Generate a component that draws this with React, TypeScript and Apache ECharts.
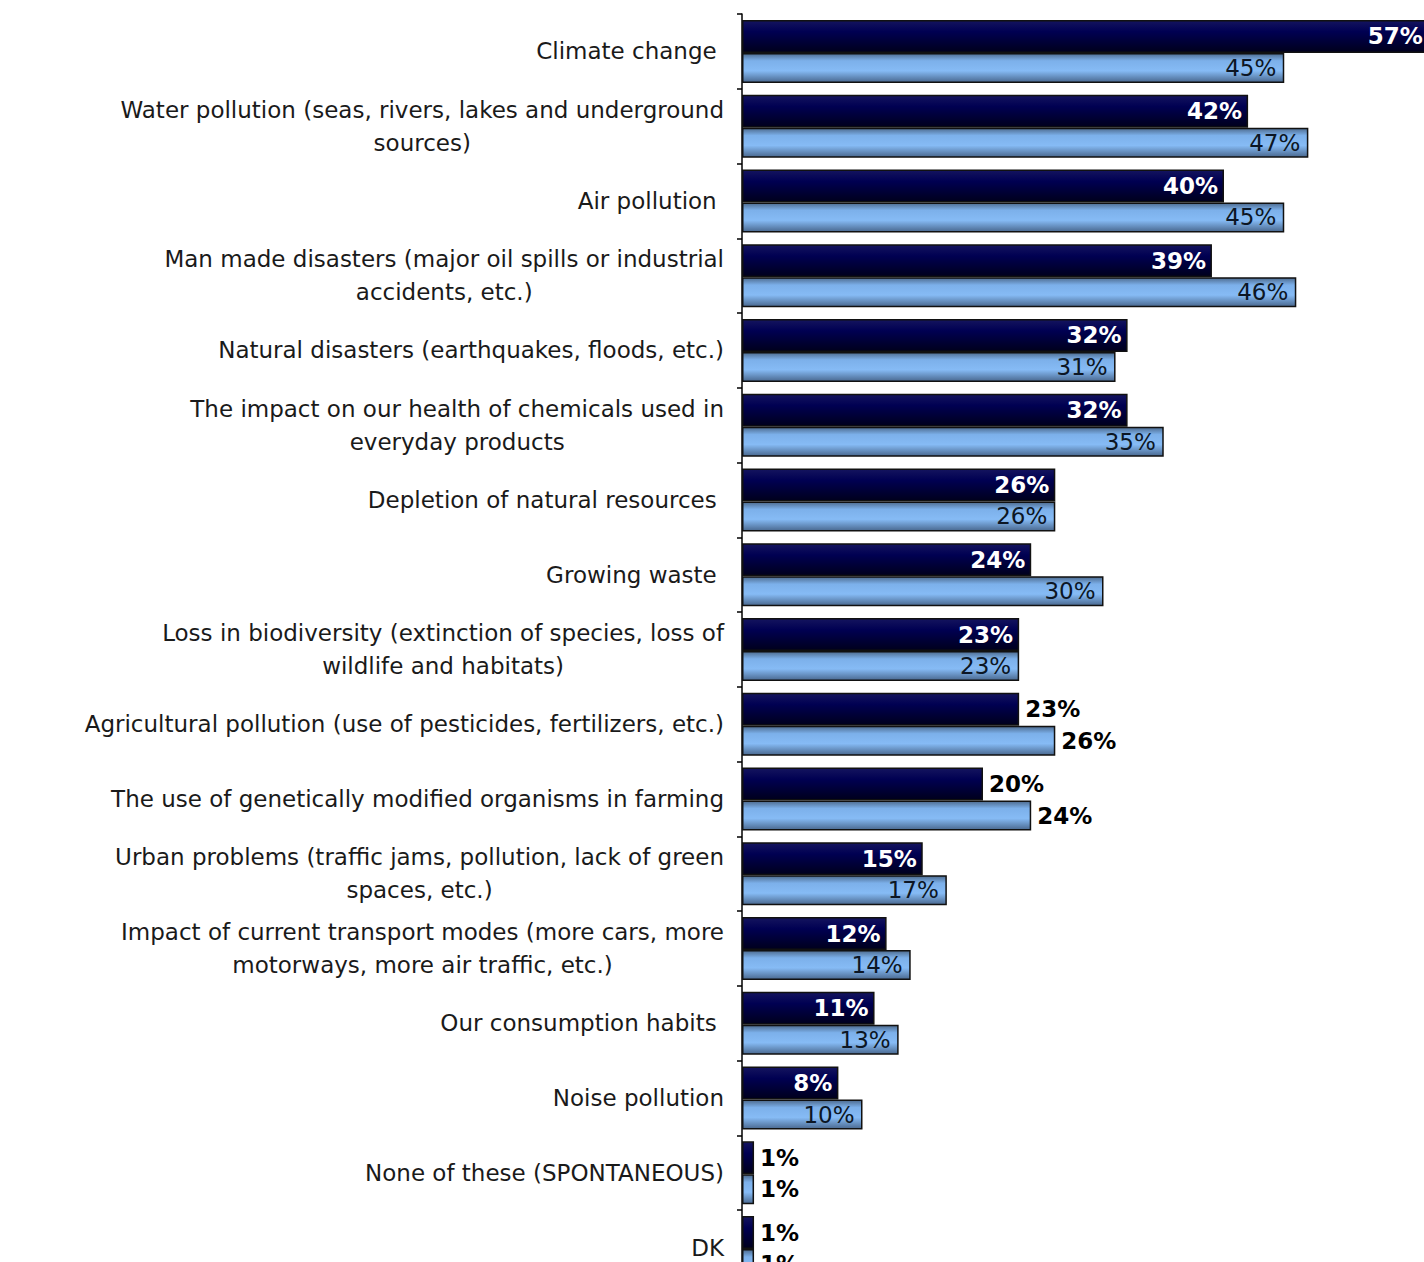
import React, { useEffect, useRef } from "react";
import * as echarts from "echarts";

const categories = [
  "Climate change ",
  "Water pollution (seas, rivers, lakes and underground\nsources)",
  "Air pollution ",
  "Man made disasters (major oil spills or industrial\naccidents, etc.)",
  "Natural disasters (earthquakes, floods, etc.)",
  "The impact on our health of chemicals used in\neveryday products",
  "Depletion of natural resources ",
  "Growing waste ",
  "Loss in biodiversity (extinction of species, loss of\nwildlife and habitats)",
  "Agricultural pollution (use of pesticides, fertilizers, etc.)",
  "The use of genetically modified organisms in farming",
  "Urban problems (traffic jams, pollution, lack of green\nspaces, etc.)",
  "Impact of current transport modes (more cars, more\nmotorways, more air traffic, etc.)",
  "Our consumption habits ",
  "Noise pollution",
  "None of these (SPONTANEOUS)",
  "DK",
];

const seriesDark = [57, 42, 40, 39, 32, 32, 26, 24, 23, 23, 20, 15, 12, 11, 8, 1, 1];
const seriesLight = [45, 47, 45, 46, 31, 35, 26, 30, 23, 26, 24, 17, 14, 13, 10, 1, 1];

// categories whose value labels sit outside the bar end
const outsideLabelIdx = [9, 10, 15, 16];

export default function App() {
  const ref = useRef<HTMLDivElement>(null);

  useEffect(() => {
    if (!ref.current) return;
    const chart = echarts.init(ref.current, null, { renderer: "svg" });
    const font = "DejaVu Sans";

    const insideDark = {
      show: true,
      position: "insideRight",
      distance: 6,
      color: "#ffffff",
      fontWeight: "bold",
      fontSize: 23,
      fontFamily: font,
      formatter: "{c}%",
    };
    const insideLight = {
      show: true,
      position: "insideRight",
      distance: 8,
      color: "#0c1624",
      fontWeight: "normal",
      fontSize: 23,
      fontFamily: font,
      formatter: "{c}%",
    };
    const outside = {
      show: true,
      position: "right",
      distance: 6,
      color: "#000000",
      fontWeight: "bold",
      fontSize: 23,
      fontFamily: font,
      formatter: "{c}%",
    };

    const mk = (vals: number[], inside: any) =>
      vals.map((v, i) => ({
        value: v,
        label: outsideLabelIdx.includes(i) ? outside : inside,
      }));

    const darkGrad = new echarts.graphic.LinearGradient(0, 0, 0, 1, [
      { offset: 0, color: "#14145e" },
      { offset: 0.35, color: "#000052" },
      { offset: 1, color: "#00001c" },
    ]);
    const lightGrad = new echarts.graphic.LinearGradient(0, 0, 0, 1, [
      { offset: 0, color: "#4e6c90" },
      { offset: 0.25, color: "#7cb0ea" },
      { offset: 0.6, color: "#86bbf5" },
      { offset: 1, color: "#4a6990" },
    ]);

    chart.setOption({
      animation: false,
      grid: { left: 742, top: 14, width: 723, height: 1271 },
      xAxis: {
        type: "value",
        min: 0,
        max: 60,
        show: false,
      },
      yAxis: {
        type: "category",
        inverse: true,
        data: categories,
        axisLine: { show: true, lineStyle: { color: "#000", width: 1.5 } },
        axisTick: { show: true, length: 5, lineStyle: { color: "#000", width: 1.5 } },
        axisLabel: {
          margin: 18,
          color: "#1a1a1a",
          fontFamily: font,
          fontSize: 23,
          formatter: (v: string) =>
            v
              .split("\n")
              .map((l) => `{c|${l}}`)
              .join("\n"),
          rich: {
            c: {
              align: "center",
              fontFamily: font,
              fontSize: 23,
              lineHeight: 33,
              color: "#1a1a1a",
            },
          },
        },
        splitLine: { show: false },
      },
      series: [
        {
          type: "bar",
          name: "dark",
          data: mk(seriesDark, insideDark),
          barWidth: 33,
          barGap: "0%",
          itemStyle: { color: darkGrad, borderColor: "#111", borderWidth: 1.5 },
        },
        {
          type: "bar",
          name: "light",
          data: mk(seriesLight, insideLight),
          barWidth: 30,
          barGap: "0%",
          itemStyle: { color: lightGrad, borderColor: "#111", borderWidth: 1.5 },
        },
      ],
    });

    return () => chart.dispose();
  }, []);

  return (
    <div
      style={{
        position: "absolute",
        left: 0,
        top: 0,
        width: 1424,
        height: 1262,
        overflow: "hidden",
        background: "#fff",
      }}
    >
      <div ref={ref} style={{ width: 1500, height: 1300 }} />
    </div>
  );
}
